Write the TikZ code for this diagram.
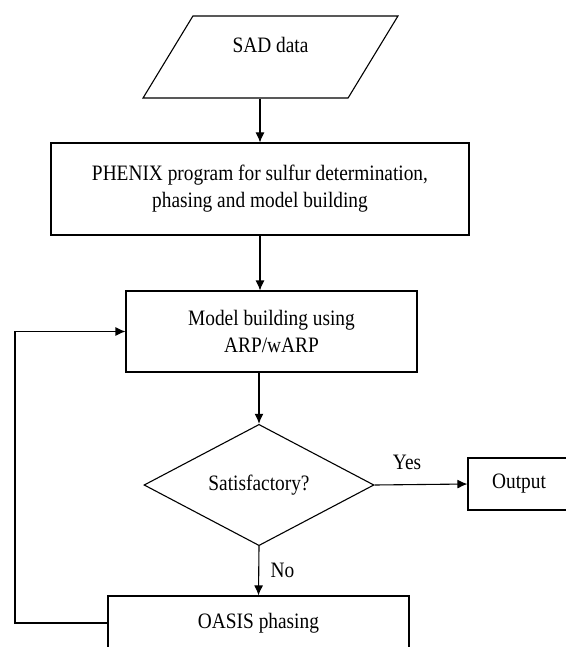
\documentclass[tikz,border=0pt]{standalone}
\usepackage{fontspec}
\setmainfont{Liberation Serif}[FakeStretch=0.88]
\usepackage{tikz}
\usetikzlibrary{arrows.meta, positioning, shapes.geometric}

\begin{document}
\begin{tikzpicture}[x=1pt, y=-1pt, >={Latex[length=10pt, width=9pt]}, line width=1.1pt, font=\fontsize{22}{27}\selectfont]
	\tikzstyle{box} = [draw=black, rectangle, align=center, inner sep=0pt]
	\tikzstyle{data} = [draw=black, trapezium, trapezium left angle=58, trapezium right angle=122, trapezium stretches=true, inner sep=0pt]
	\tikzstyle{test} = [draw=black, diamond, inner sep=0pt]
	
	\useasboundingbox (0, 0) rectangle (565, 647);
	
	\node[data, minimum width=255pt, minimum height=82pt, text height=15pt, text depth=24pt] at (270.5, 57) (q0) {SAD data};
	\node[box, minimum width=418pt, minimum height=92pt] at (260, 189) (q1) {PHENIX program for sulfur determination,\\phasing and model building};
	\node[box, minimum width=291pt, minimum height=81pt] at (271.5, 331.5) (q2) {Model building using\\ARP/wARP};
	\node[test, minimum width=230pt, minimum height=110pt] at (259, 485) (q3) {Satisfactory?};
	\node[box, minimum width=102pt, minimum height=52pt] at (519, 484) (q4) {Output};
	\node[box, minimum width=301pt, minimum height=54pt] at (258.5, 623) (q5) {OASIS phasing};
	\coordinate (c0) at (15, 0);
	
	\path[->] 
	(q1.north |- q0.south) edge (q1.north)
	(q1.south) edge (q1.south |- q2.north)
	(q3.north |- q2.south) edge (q3.north)
	(q3.east) edge node[above=11pt, pos=0.35] {Yes} (q4.west)
	(q3.south) edge node[right=8pt] {No} (q5.north);
	
	\draw[->] (q5.west) -| (c0 |- q2.west) -- (q2.west);
	
\end{tikzpicture}
\end{document}
